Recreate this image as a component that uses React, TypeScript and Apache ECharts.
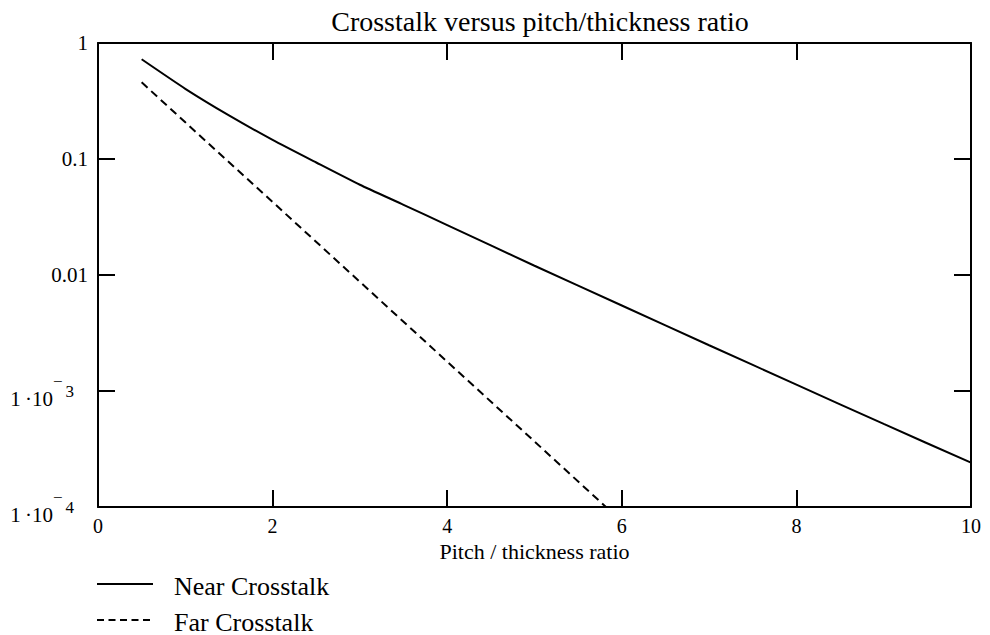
import React, { useEffect, useRef } from "react";
import * as echarts from "echarts";

const SERIF = "'Liberation Serif', 'Times New Roman', serif";

// Near crosstalk (solid)
const nearX = [0.5, 1, 1.5, 2, 2.5, 3, 3.5, 4, 5, 6, 7, 8, 9, 10];
const nearY = [0.7236, 0.403, 0.2377, 0.1462, 0.0933, 0.06, 0.0403, 0.0269, 0.01202, 0.00546, 0.00248, 0.001135, 0.00052, 0.000241];

// Far crosstalk (dashed)
const farX = [0.5, 1, 2, 3, 4, 5, 6];
const farY = [0.458, 0.207, 0.0426, 0.00873, 0.00179, 0.000367, 0.000075];

// y tick labels by decade exponent
const yTickExponents = [0, -1, -2, -3, -4];
const yTickLabels = ["1", "0.1", "0.01", "1\u2009·10|3", "1\u2009·10|4"];

const seriesNames = ["Near Crosstalk", "Far Crosstalk"];
const titleText = "Crosstalk versus pitch/thickness ratio";
const xAxisName = "Pitch / thickness ratio";

function yLabel(v: number): string {
  const e = Math.round(Math.log10(v));
  const idx = yTickExponents.indexOf(e);
  if (idx < 0) return "";
  const lab = yTickLabels[idx];
  if (lab.includes("|")) {
    const [base, exp] = lab.split("|");
    return `{a|${base}}{m|\u2212}{s|${exp}}`;
  }
  return `{b|${lab}}`;
}

export default function App() {
  const ref = useRef<HTMLDivElement>(null);
  useEffect(() => {
    if (!ref.current) return;
    const chart = echarts.init(ref.current, undefined, { renderer: "svg" });
    const axisLine = { show: true, onZero: false, lineStyle: { color: "#000", width: 2 } };
    const tick = { show: true, inside: true, length: 17, lineStyle: { color: "#000", width: 2 } };
    chart.setOption({
      animation: false,
      backgroundColor: "#fff",
      title: {
        text: titleText,
        left: 535,
        top: 2,
        textAlign: "center",
        textStyle: { fontFamily: SERIF, fontSize: 28, fontWeight: "normal", color: "#000" },
      },
      grid: { left: 98, right: 19, top: 43, bottom: 128, containLabel: false, outerBoundsMode: "none" },
      xAxis: [
        {
          type: "value",
          min: 0,
          max: 10,
          interval: 2,
          position: "bottom",
          axisLine,
          axisTick: tick,
          splitLine: { show: false },
          axisLabel: { fontFamily: SERIF, fontSize: 20, color: "#000", margin: 9 },
          name: xAxisName,
          nameLocation: "middle",
          nameGap: 31,
          nameTextStyle: { fontFamily: SERIF, fontSize: 22, color: "#000" },
        },
        {
          type: "value",
          min: 0,
          max: 10,
          interval: 2,
          position: "top",
          axisLine,
          axisTick: tick,
          splitLine: { show: false },
          axisLabel: { show: false },
        },
      ],
      yAxis: [
        {
          type: "log",
          logBase: 10,
          min: 1e-4,
          max: 1,
          position: "left",
          axisLine,
          axisTick: tick,
          splitLine: { show: false },
          axisLabel: {
            color: "#000",
            margin: 10,
            formatter: yLabel,
            rich: {
              b: { fontFamily: SERIF, fontSize: 21, color: "#000" },
              a: { fontFamily: SERIF, fontSize: 21, color: "#000", verticalAlign: "bottom" },
              m: { fontFamily: SERIF, fontSize: 17, color: "#000", verticalAlign: "bottom", padding: [0, 0, 20, 0] },
              s: { fontFamily: SERIF, fontSize: 17, color: "#000", verticalAlign: "bottom", padding: [0, 14, 10, 3] },
            },
          },
        },
        {
          type: "log",
          logBase: 10,
          min: 1e-4,
          max: 1,
          position: "right",
          axisLine,
          axisTick: tick,
          splitLine: { show: false },
          axisLabel: { show: false },
        },
      ],
      series: [
        {
          name: seriesNames[0],
          type: "line",
          xAxisIndex: 0,
          yAxisIndex: 0,
          data: nearX.map((x, i) => [x, nearY[i]]),
          showSymbol: false,
          symbol: "none",
          smooth: 0.2,
          clip: true,
          lineStyle: { color: "#000", width: 2, type: "solid" },
        },
        {
          name: seriesNames[1],
          type: "line",
          xAxisIndex: 0,
          yAxisIndex: 0,
          data: farX.map((x, i) => [x, farY[i]]),
          showSymbol: false,
          symbol: "none",
          clip: true,
          lineStyle: { color: "#000", width: 2, type: [8, 5] },
        },
      ],
      graphic: [
        { type: "line", shape: { x1: 97, y1: 584, x2: 153, y2: 584 }, style: { stroke: "#000", lineWidth: 2 } },
        { type: "line", shape: { x1: 97, y1: 620, x2: 152, y2: 620 }, style: { stroke: "#000", lineWidth: 2, lineDash: [7, 4.5] } },
        {
          type: "text",
          x: 174,
          y: 586,
          style: { text: seriesNames[0], fontFamily: SERIF, fontSize: 26, fill: "#000", verticalAlign: "middle" },
        },
        {
          type: "text",
          x: 174,
          y: 622,
          style: { text: seriesNames[1], fontFamily: SERIF, fontSize: 26, fill: "#000", verticalAlign: "middle" },
        },
      ],
    });
    return () => chart.dispose();
  }, []);
  return (
    <div
      ref={ref}
      style={{ position: "absolute", left: 0, top: 0, width: 990, height: 635, background: "#fff" }}
    />
  );
}
